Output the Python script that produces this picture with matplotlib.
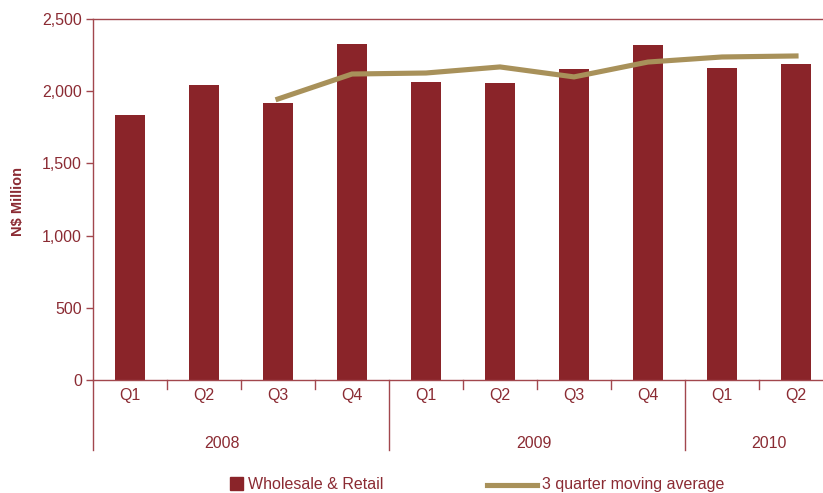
import matplotlib.pyplot as plt
from matplotlib.patches import Rectangle
from matplotlib.lines import Line2D

plt.rcParams['font.family'] = ['Liberation Sans', 'DejaVu Sans']

# data (N$ million)
quarters = ['Q1', 'Q2', 'Q3', 'Q4', 'Q1', 'Q2', 'Q3', 'Q4', 'Q1', 'Q2']
years = ['2008', '2009', '2010']
wholesale_retail = [1835, 2043, 1918, 2327, 2064, 2057, 2154, 2320, 2161, 2188]
# 3 quarter moving average starts at 2008 Q3
moving_avg = [1946, 2119, 2126, 2168, 2099, 2202, 2237, 2244]

bar_col = '#8A2429'
line_col = '#A8915A'
text_col = '#8B2B33'
axis_col = '#A2474D'

W, H = 823, 493
fig = plt.figure(figsize=(W / 100, H / 100), dpi=100)
ax = fig.add_axes([93 / W, (H - 380) / H, (W - 93) / W, 361 / H])

x = list(range(len(quarters)))
ax.bar(x, wholesale_retail, width=0.405, color=bar_col, zorder=2)
ax.plot(x[2:], moving_avg, color=line_col, lw=3.7, zorder=3,
        solid_joinstyle='miter')

ax.set_ylim(0, 2500)
ax.set_xlim(-0.5, (W - 93) / 74 - 0.5)
ax.set_yticks(range(0, 2501, 500))
ax.set_yticklabels([f'{v:,}' for v in range(0, 2501, 500)])
ax.tick_params(axis='y', colors=axis_col, labelcolor=text_col, labelsize=11.5,
               length=5, width=1, direction='out', pad=3)
ax.set_xticks([])

for side in ['top', 'bottom', 'left']:
    ax.spines[side].set_color(axis_col)
    ax.spines[side].set_linewidth(1)
ax.spines['right'].set_visible(False)

# category axis: quarter separators, year separators and labels
trans = ax.get_xaxis_transform()
qsep = 9 / 361
ysep = 70 / 361
for i in range(len(quarters)):
    ax.text(i, -15.5 / 361, quarters[i], transform=trans, ha='center',
            va='center', color=text_col, fontsize=11.5)
for b in [0.5, 1.5, 2.5, 4.5, 5.5, 6.5, 8.5]:
    ax.plot([b, b], [0, -qsep], transform=trans, color=axis_col, lw=1,
            clip_on=False)
for b in [-0.5, 3.5, 7.5]:
    ax.plot([b, b], [0, -ysep], transform=trans, color=axis_col, lw=1,
            clip_on=False)
year_pos = [1.24, 5.46, 8.64]
for yp, yr in zip(year_pos, years):
    ax.text(yp, -63 / 361, yr, transform=trans, ha='center', va='center',
            color=text_col, fontsize=11.5)

fig.text(18 / W, 1 - 201 / H, 'N$ Million', rotation=90, ha='center',
         va='center', color=text_col, fontsize=10.5, fontweight='bold')

# legend along the bottom edge
fig.patches.append(Rectangle((230 / W, 3 / H), 13 / W, 13 / H,
                             transform=fig.transFigure, color=bar_col))
fig.text(248 / W, 4 / H, 'Wholesale & Retail', ha='left', va='baseline',
         color=text_col, fontsize=11.5)
fig.lines.append(Line2D([487 / W, 537 / W], [8 / H, 8 / H],
                        transform=fig.transFigure, color=line_col, lw=3.7))
fig.text(542 / W, 4 / H, '3 quarter moving average', ha='left',
         va='baseline', color=text_col, fontsize=11.5)

fig.savefig('out.png', dpi=100)
